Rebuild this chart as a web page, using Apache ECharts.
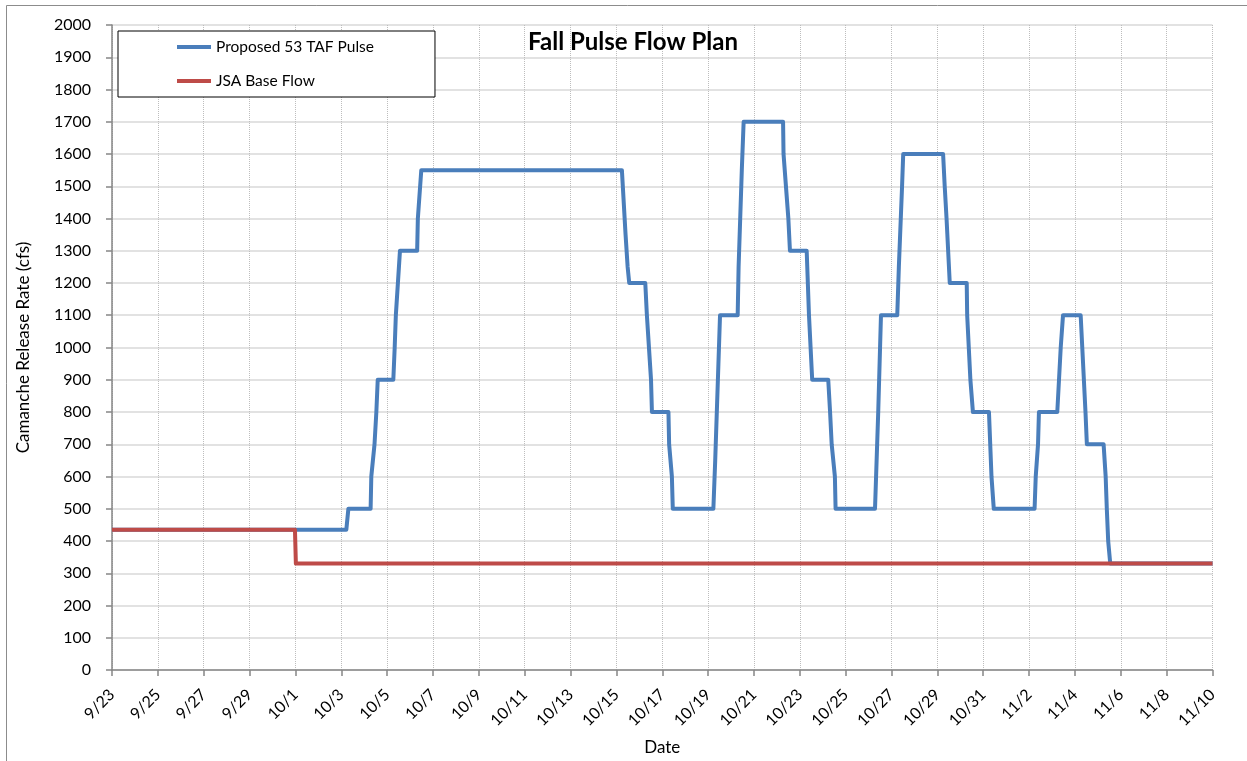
<!DOCTYPE html>
<html>
<head>
<meta charset="utf-8">
<title>Fall Pulse Flow Plan</title>
<script src="https://cdn.jsdelivr.net/npm/echarts@6/dist/echarts.min.js"></script>
<style>
  html, body { margin: 0; padding: 0; background: #fff; }
  #chart { width: 1247px; height: 761px; }
</style>
</head>
<body>
<div id="chart"></div>
<script>
// tick labels, one every 2 days starting 9/23 (x = days since 9/23)
var dateLabels = ['9/23','9/25','9/27','9/29','10/1','10/3','10/5','10/7','10/9','10/11','10/13','10/15',
    '10/17','10/19','10/21','10/23','10/25','10/27','10/29','10/31','11/2','11/4','11/6','11/8','11/10'];

// Proposed 53 TAF Pulse
var pulseDay = [0, 10.22, 10.31, 11.28, 11.31, 11.45, 11.53, 11.59,
    12.27, 12.33, 12.38, 12.56, 13.31, 13.34, 13.49,
    22.24, 22.40, 22.49, 22.56, 23.26, 23.33, 23.42, 23.51, 23.55,
    24.27, 24.30, 24.42, 24.46, 26.23, 26.31, 26.45, 26.52,
    27.29, 27.33, 27.40, 27.47, 27.55, 29.27, 29.29, 29.50, 29.57,
    30.30, 30.40, 30.54, 31.24, 31.32, 31.39, 31.53, 31.56,
    33.28, 33.35, 33.42, 33.54, 34.25, 34.32, 34.46, 34.51,
    36.25, 36.32, 36.40, 36.54, 37.28, 37.30, 37.44, 37.55,
    38.25, 38.36, 38.46, 40.24, 40.29, 40.39, 40.43, 41.23, 41.38, 41.48,
    42.25, 42.32, 42.46, 42.52, 43.25, 43.34, 43.39, 43.45, 43.54, 48];
var pulseCfs = [435, 435, 500, 500, 600, 700, 800, 900,
    900, 1000, 1100, 1300, 1300, 1400, 1550,
    1550, 1350, 1250, 1200, 1200, 1100, 1000, 900, 800,
    800, 700, 600, 500, 500, 650, 950, 1100,
    1100, 1250, 1400, 1550, 1700, 1700, 1600, 1400, 1300,
    1300, 1100, 900, 900, 800, 700, 600, 500,
    500, 650, 800, 1100, 1100, 1250, 1500, 1600,
    1600, 1500, 1400, 1200, 1200, 1100, 900, 800,
    800, 600, 500, 500, 600, 700, 800, 800, 1000, 1100,
    1100, 1000, 800, 700, 700, 600, 500, 400, 330, 330];

// JSA Base Flow
var baseDay = [0, 7.98, 8.02, 48];
var baseCfs = [435, 435, 330, 330];

function pairs(xs, ys){
    var out = [];
    for(var i=0;i<xs.length;i++){
        out.push([xs[i], ys[i]]);
    }
    return out;
}

var font = 'Lato, "Open Sans", sans-serif';
var myChart = echarts.init(document.getElementById('chart'));
var option = {
    backgroundColor: '#fff',
    animation: false,
    textStyle: { fontFamily: font, color: '#000' },
    title: {
        text: 'Fall Pulse Flow Plan',
        left: 633,
        top: 30,
        padding: 0,
        textAlign: 'center',
        textStyle: { fontFamily: font, fontSize: 24, fontWeight: 'bold', color: '#000' }
    },
    graphic: [{
        type: 'rect',
        silent: true,
        shape: { x: 6.5, y: 5.5, width: 1300, height: 800 },
        style: { fill: 'none', stroke: '#8c8c8c', lineWidth: 1 }
    }],
    legend: {
        orient: 'vertical',
        left: 118,
        top: 31,
        padding: [7, 61, 7, 59],
        itemGap: 16,
        itemWidth: 34,
        itemHeight: 4,
        icon: 'rect',
        borderColor: '#000',
        borderWidth: 1,
        backgroundColor: '#fff',
        textStyle: { fontFamily: font, fontSize: 15.5, color: '#000', lineHeight: 18 },
        data: ['Proposed 53 TAF Pulse', 'JSA Base Flow']
    },
    grid: { left: 112, right: 34.5, top: 25, bottom: 91, outerBoundsMode: 'none' },
    xAxis: {
        type: 'value',
        min: 0,
        max: 48,
        interval: 2,
        name: 'Date',
        nameLocation: 'middle',
        nameGap: 69,
        nameTextStyle: { fontFamily: font, fontSize: 17, color: '#000' },
        axisLine: { lineStyle: { color: '#868686', width: 1.5 } },
        axisTick: { show: true, length: 6, lineStyle: { color: '#868686', width: 1.5 } },
        axisLabel: {
            rotate: 45,
            margin: 22,
            fontFamily: font,
            fontSize: 16,
            color: '#000',
            formatter: function(v){ return dateLabels[Math.round(v/2)]; }
        },
        splitLine: { show: true, lineStyle: { color: '#bdbdbd', type: 'dotted', width: 1 } }
    },
    yAxis: {
        type: 'value',
        min: 0,
        max: 2000,
        interval: 100,
        name: 'Camanche Release Rate (cfs)',
        nameLocation: 'middle',
        nameGap: 80,
        nameTextStyle: { fontFamily: font, fontSize: 17, color: '#000' },
        axisLine: { show: true, lineStyle: { color: '#868686', width: 1.5 } },
        axisTick: { show: true, length: 6, lineStyle: { color: '#868686', width: 1.5 } },
        axisLabel: {
            margin: 21,
            fontFamily: font,
            fontSize: 16,
            color: '#000',
            formatter: function(v){ return String(v); }
        },
        splitLine: { show: true, lineStyle: { color: '#d9d9d9', width: 1.5 } }
    },
    series: [
        {
            name: 'Proposed 53 TAF Pulse',
            type: 'line',
            symbol: 'none',
            color: '#4a7ebb',
            lineStyle: { width: 4, color: '#4a7ebb', join: 'round' },
            data: pairs(pulseDay, pulseCfs)
        },
        {
            name: 'JSA Base Flow',
            type: 'line',
            symbol: 'none',
            color: '#be4b48',
            lineStyle: { width: 4, color: '#be4b48', join: 'round' },
            data: pairs(baseDay, baseCfs)
        }
    ]
};
myChart.setOption(option);
</script>
</body>
</html>
